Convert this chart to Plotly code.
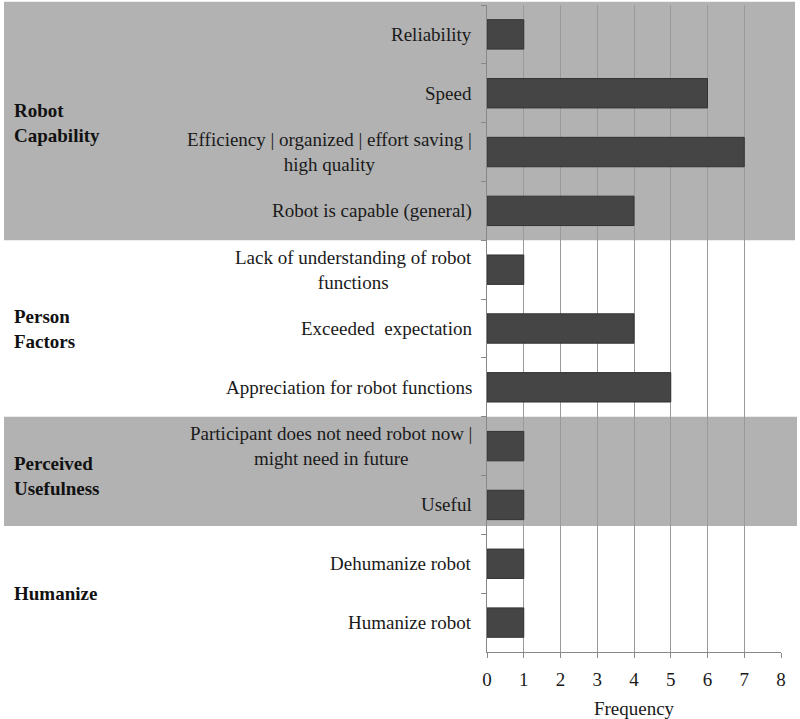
import plotly.graph_objects as go

categories = [
    "Reliability",
    "Speed",
    "Efficiency | organized | effort saving |<br>high quality",
    "Robot is capable (general)",
    "Lack of understanding of robot<br>functions",
    "Exceeded\u00a0 expectation",
    "Appreciation for robot functions",
    "Participant does not need robot now |<br>might need in future",
    "Useful",
    "Dehumanize robot",
    "Humanize robot",
]
frequency = [1, 6, 7, 4, 1, 4, 5, 1, 1, 1, 1]
groups = ["Robot<br>Capability", "Person<br>Factors", "Perceived<br>Usefulness", "Humanize"]
group_members = [[0, 1, 2, 3], [4, 5, 6], [7, 8], [9, 10]]
x_ticks = [0, 1, 2, 3, 4, 5, 6, 7, 8]

FONT = "Liberation Serif, Times New Roman, serif"
W, L, R = 800, 487, 19
PW = W - L - R
FS = 19

fig = go.Figure()
fig.add_trace(go.Bar(
    x=frequency, y=categories, orientation="h",
    marker=dict(color="#454545", line=dict(color="#333333", width=1)),
    width=0.5, showlegend=False, hoverinfo="skip",
))

def px2paper(px):
    return (px - L) / PW

shapes = [
    dict(type="rect", xref="paper", yref="paper", x0=px2paper(4), x1=px2paper(795),
         y0=1 - 4 / 11, y1=1.005, fillcolor="#b2b2b2", line=dict(width=0), layer="below"),
    dict(type="rect", xref="paper", yref="paper", x0=px2paper(4), x1=px2paper(797),
         y0=0.1947, y1=1 - 7 / 11, fillcolor="#b2b2b2", line=dict(width=0), layer="below"),
]

annotations = []
for c in categories:
    annotations.append(dict(
        xref="paper", yref="y", x=0, y=c, xanchor="right", yanchor="middle",
        xshift=-13, text=c, showarrow=False, align="center",
        font=dict(family=FONT, size=FS, color="#1a1a1a"),
    ))
for g, members in zip(groups, group_members):
    annotations.append(dict(
        xref="paper", yref="y", x=px2paper(12), y=sum(members) / len(members),
        xanchor="left", yanchor="middle", text="<b>" + g + "</b>",
        showarrow=False, align="left",
        font=dict(family=FONT, size=FS, color="#111111"),
    ))

fig.update_layout(
    width=W, height=719,
    margin=dict(l=L, r=R, t=5, b=67, pad=0, autoexpand=False),
    paper_bgcolor="white", plot_bgcolor="rgba(0,0,0,0)",
    shapes=shapes, annotations=annotations,
    font=dict(family=FONT, size=FS, color="#1a1a1a"),
)
fig.update_xaxes(
    range=[0, 8], tickvals=x_ticks, showgrid=True, gridcolor="#9a9a9a", gridwidth=1,
    zeroline=False, showline=True, linecolor="#888888", linewidth=1,
    ticks="outside", ticklen=5, tickcolor="#888888", automargin=False,
    ticklabelstandoff=5,
    tickfont=dict(family=FONT, size=FS, color="#1a1a1a"),
    title=dict(text="Frequency", font=dict(family=FONT, size=FS, color="#1a1a1a"), standoff=12),
)
fig.update_yaxes(
    type="category", categoryorder="array", categoryarray=categories,
    range=[10.5, -0.5], showticklabels=False, showgrid=False, automargin=False,
    showline=True, linecolor="#888888", linewidth=1,
    ticks="outside", ticklen=5, tickcolor="#888888", tickson="boundaries",
)

fig.write_html("out.html", config={"displayModeBar": False},
               post_script="document.body.style.margin='0';")
